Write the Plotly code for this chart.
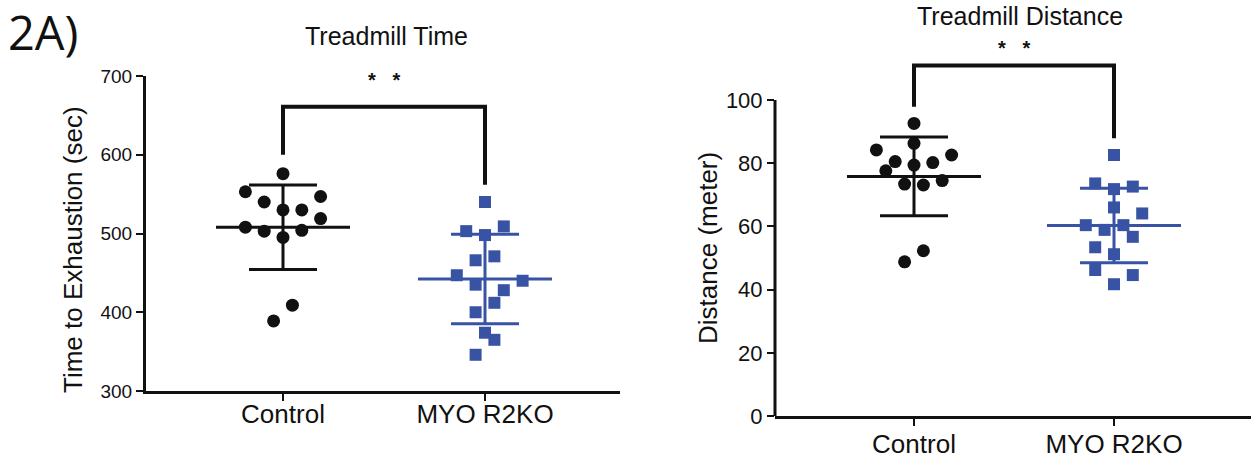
import numpy as np
import plotly.graph_objects as go

groups = ["Control", "MYO R2KO"]

# Treadmill time to exhaustion (sec)
time_control = [576, 553, 547, 540, 530, 530, 519, 508, 503, 504, 495, 409, 389]
time_r2ko = [540, 503, 498, 509, 471, 466, 447, 440, 435, 428, 412, 400, 374, 365, 346]

# Treadmill distance (meter)
dist_control = [92.6, 86.3, 84.2, 82.6, 80.5, 79.4, 80.2, 77.6, 73.4, 73.1, 74.5, 52.3, 48.8]
dist_r2ko = [82.6, 73.6, 71.8, 72.6, 66.0, 64.1, 60.4, 60.4, 58.9, 56.7, 53.4, 51.2, 46.2, 44.6, 41.7]

# Beeswarm column slot of each point (half-marker steps from the group centre)
time_control_slot = [0, -4, 4, -2, 0, 2, 4, -4, -2, 2, 0, 1, -1]
time_r2ko_slot = [0, -2, 0, 2, 1, -1, -3, 4, -1, 2, 1, -1, 0, 1, -1]
dist_control_slot = [0, 0, -4, 4, -2, 0, 2, -3, -1, 1, 3, 1, -1]
dist_r2ko_slot = [0, -2, 0, 2, 0, 3, -3, 1, -1, 2, -2, 0, -2, 2, 0]

time_ticks = [300, 400, 500, 600, 700]
dist_ticks = [0, 20, 40, 60, 80, 100]

# Significance brackets: (left foot, bar height, right foot) and label height
time_bracket = (600, 661, 562)
time_star_y = 695
dist_bracket = (97.9, 110.9, 87.9)
dist_star_y = 116.3
sig_label = "<b>*\u00a0\u00a0\u00a0*</b>"

# ---- page geometry (pixels) ----
W, H = 1251, 459
FONT = "Liberation Sans, Arial, sans-serif"
BLACK = "#111111"
BLUE = "#3953A4"
COLORS = [BLACK, BLUE]
SYMBOLS = ["circle", "square"]
SIZES = [13, 12]

# left panel
L_X0, L_X1, L_Y0, L_Y1 = 146, 620, 391, 76
L_UNIT = 202.0          # px between the two groups
L_CTRL = 283.0          # px of the Control column
# right panel
R_X0, R_X1, R_Y0, R_Y1 = 775, 1251, 416, 40
R_UNIT = 200.0
R_CTRL = 914.0
R_PX_PER_VAL = 3.16     # px per metre on the distance axis

STEP_PX = 9.4
MEAN_HALF_PX = 67
CAP_HALF_PX = 34

fig = go.Figure()


def add_group_panel(xa, ya, series, slots, unit_px):
    step = STEP_PX / unit_px
    mh = MEAN_HALF_PX / unit_px
    ch = CAP_HALF_PX / unit_px
    for gi, (vals, sl) in enumerate(zip(series, slots)):
        col = COLORS[gi]
        fig.add_trace(go.Scatter(
            x=[gi + s * step for s in sl], y=vals, mode="markers",
            marker=dict(symbol=SYMBOLS[gi], size=SIZES[gi], color=col, line=dict(width=0)),
            xaxis=xa, yaxis=ya, showlegend=False, hoverinfo="y"))
        m = float(np.mean(vals))
        sd = float(np.std(vals, ddof=1))
        # mean line
        fig.add_trace(go.Scatter(
            x=[gi - mh, gi + mh], y=[m, m], mode="lines",
            line=dict(color=col, width=3), xaxis=xa, yaxis=ya,
            showlegend=False, hoverinfo="skip"))
        # SD whisker with caps
        fig.add_trace(go.Scatter(
            x=[gi, gi, None, gi - ch, gi + ch, None, gi - ch, gi + ch],
            y=[m - sd, m + sd, None, m + sd, m + sd, None, m - sd, m - sd],
            mode="lines", line=dict(color=col, width=3), xaxis=xa, yaxis=ya,
            showlegend=False, hoverinfo="skip"))


def add_bracket(xa, ya, br, star_y):
    fig.add_trace(go.Scatter(
        x=[0, 0, 1, 1], y=[br[0], br[1], br[1], br[2]], mode="lines",
        line=dict(color=BLACK, width=4), xaxis=xa, yaxis=ya,
        showlegend=False, hoverinfo="skip"))
    fig.add_annotation(x=0.5, y=star_y, xref=xa, yref=ya, text=sig_label,
                       showarrow=False, font=dict(family=FONT, size=20, color=BLACK),
                       xanchor="center", yanchor="middle")


add_group_panel("x", "y", [time_control, time_r2ko], [time_control_slot, time_r2ko_slot], L_UNIT)
add_bracket("x", "y", time_bracket, time_star_y)
add_group_panel("x2", "y2", [dist_control, dist_r2ko], [dist_control_slot, dist_r2ko_slot], R_UNIT)
add_bracket("x2", "y2", dist_bracket, dist_star_y)

l_lo = -(L_CTRL - L_X0) / L_UNIT
l_hi = l_lo + (L_X1 - L_X0) / L_UNIT
r_lo = -(R_CTRL - R_X0) / R_UNIT
r_hi = r_lo + (R_X1 - R_X0) / R_UNIT
r_top = (R_Y0 - R_Y1) / R_PX_PER_VAL

common_x = dict(tickvals=[0, 1], ticktext=groups, showline=True, linecolor=BLACK, linewidth=3,
                ticks="outside", ticklen=7, tickwidth=2, tickcolor=BLACK,
                tickfont=dict(family=FONT, size=26, color=BLACK),
                showgrid=False, zeroline=False, fixedrange=True, automargin=False)
common_y = dict(ticks="outside", ticklen=7, tickwidth=2, tickcolor=BLACK,
                showgrid=False, zeroline=False, fixedrange=True, automargin=False)

fig.update_layout(
    width=W, height=H, autosize=False,
    margin=dict(l=0, r=0, t=0, b=0),
    paper_bgcolor="white", plot_bgcolor="white",
    xaxis=dict(domain=[L_X0 / W, L_X1 / W], range=[l_lo, l_hi], anchor="y",
               ticklabelstandoff=-9, **common_x),
    yaxis=dict(domain=[(H - L_Y0) / H, (H - L_Y1) / H], range=[300, 700], anchor="x",
               tickvals=time_ticks, showline=True, linecolor=BLACK, linewidth=3,
               tickfont=dict(family=FONT, size=19, color=BLACK), **common_y),
    xaxis2=dict(domain=[R_X0 / W, R_X1 / W], range=[r_lo, r_hi], anchor="y2",
                ticklabelstandoff=-4, **common_x),
    yaxis2=dict(domain=[(H - R_Y0) / H, (H - R_Y1) / H], range=[0, r_top], anchor="x2",
                tickvals=dist_ticks, showline=False,
                tickfont=dict(family=FONT, size=22, color=BLACK), **common_y),
)

# distance axis spine only spans 0-100
fig.add_shape(type="line", xref="x2 domain", yref="y2", x0=0, x1=0, y0=0, y1=100,
              line=dict(color=BLACK, width=3))

# axis titles
fig.add_annotation(x=73 / W, y=1 - 250 / H, xref="paper", yref="paper",
                   text="Time to Exhaustion (sec)", textangle=-90, showarrow=False,
                   xanchor="center", yanchor="middle",
                   font=dict(family=FONT, size=26, color=BLACK))
fig.add_annotation(x=708 / W, y=1 - 248 / H, xref="paper", yref="paper",
                   text="Distance (meter)", textangle=-90, showarrow=False,
                   xanchor="center", yanchor="middle",
                   font=dict(family=FONT, size=26, color=BLACK))

fig.add_annotation(x=6 / W, y=1 - 32 / H, xref="paper", yref="paper", text="2A)",
                   showarrow=False, xanchor="left", yanchor="middle",
                   font=dict(family="Open Sans, sans-serif", size=47, color=BLACK))
fig.add_annotation(x=386 / W, y=1 - 36 / H, xref="paper", yref="paper", text="Treadmill Time",
                   showarrow=False, xanchor="center", yanchor="middle",
                   font=dict(family=FONT, size=25, color=BLACK))
fig.add_annotation(x=1020 / W, y=1, xref="paper", yref="paper", text="Treadmill Distance",
                   showarrow=False, xanchor="center", yanchor="top",
                   font=dict(family=FONT, size=25, color=BLACK))

fig.write_html("out.html")
